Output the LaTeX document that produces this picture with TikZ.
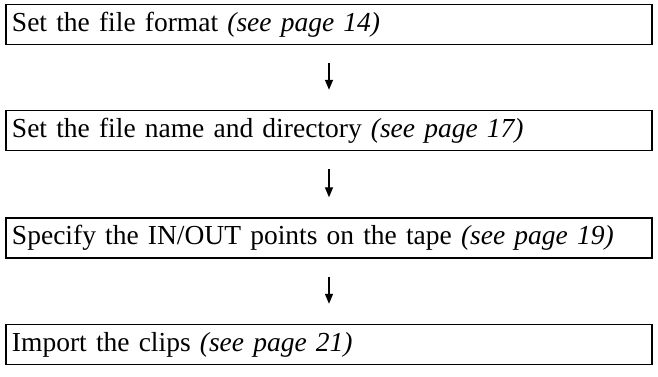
\documentclass[tikz,border=0pt]{standalone}
\usepackage{fontspec}
\setmainfont{Liberation Serif}
\usetikzlibrary{arrows}

\begin{document}
\begin{tikzpicture}[x=1pt,y=-1pt,
    stepbox/.style={draw, line width=1.6pt, minimum width=646pt, minimum height=40pt,
        text width=634pt, align=left, inner sep=0pt, font=\fontsize{27.5}{30}\selectfont},
    nextstep/.style={-triangle 45, line width=1.3pt, shorten <=18pt, shorten >=20pt}]

\useasboundingbox (0,0) rectangle (658,376);

\node [stepbox] (1) at (329,24.5)  {Set the file format \textit{(see page 14)}};
\node [stepbox] (2) at (329,130.5) {Set the file name and directory \textit{(see page 17)}};
\node [stepbox] (3) at (329,238)   {Specify the IN/OUT points on the tape \textit{(see page 19)}};
\node [stepbox] (4) at (329,344.5) {Import the clips \textit{(see page 21)}};

\foreach \i/\j in {1/2,2/3,3/4}
    \draw [nextstep] (\i.south) -- (\j.north);

\end{tikzpicture}
\end{document}
